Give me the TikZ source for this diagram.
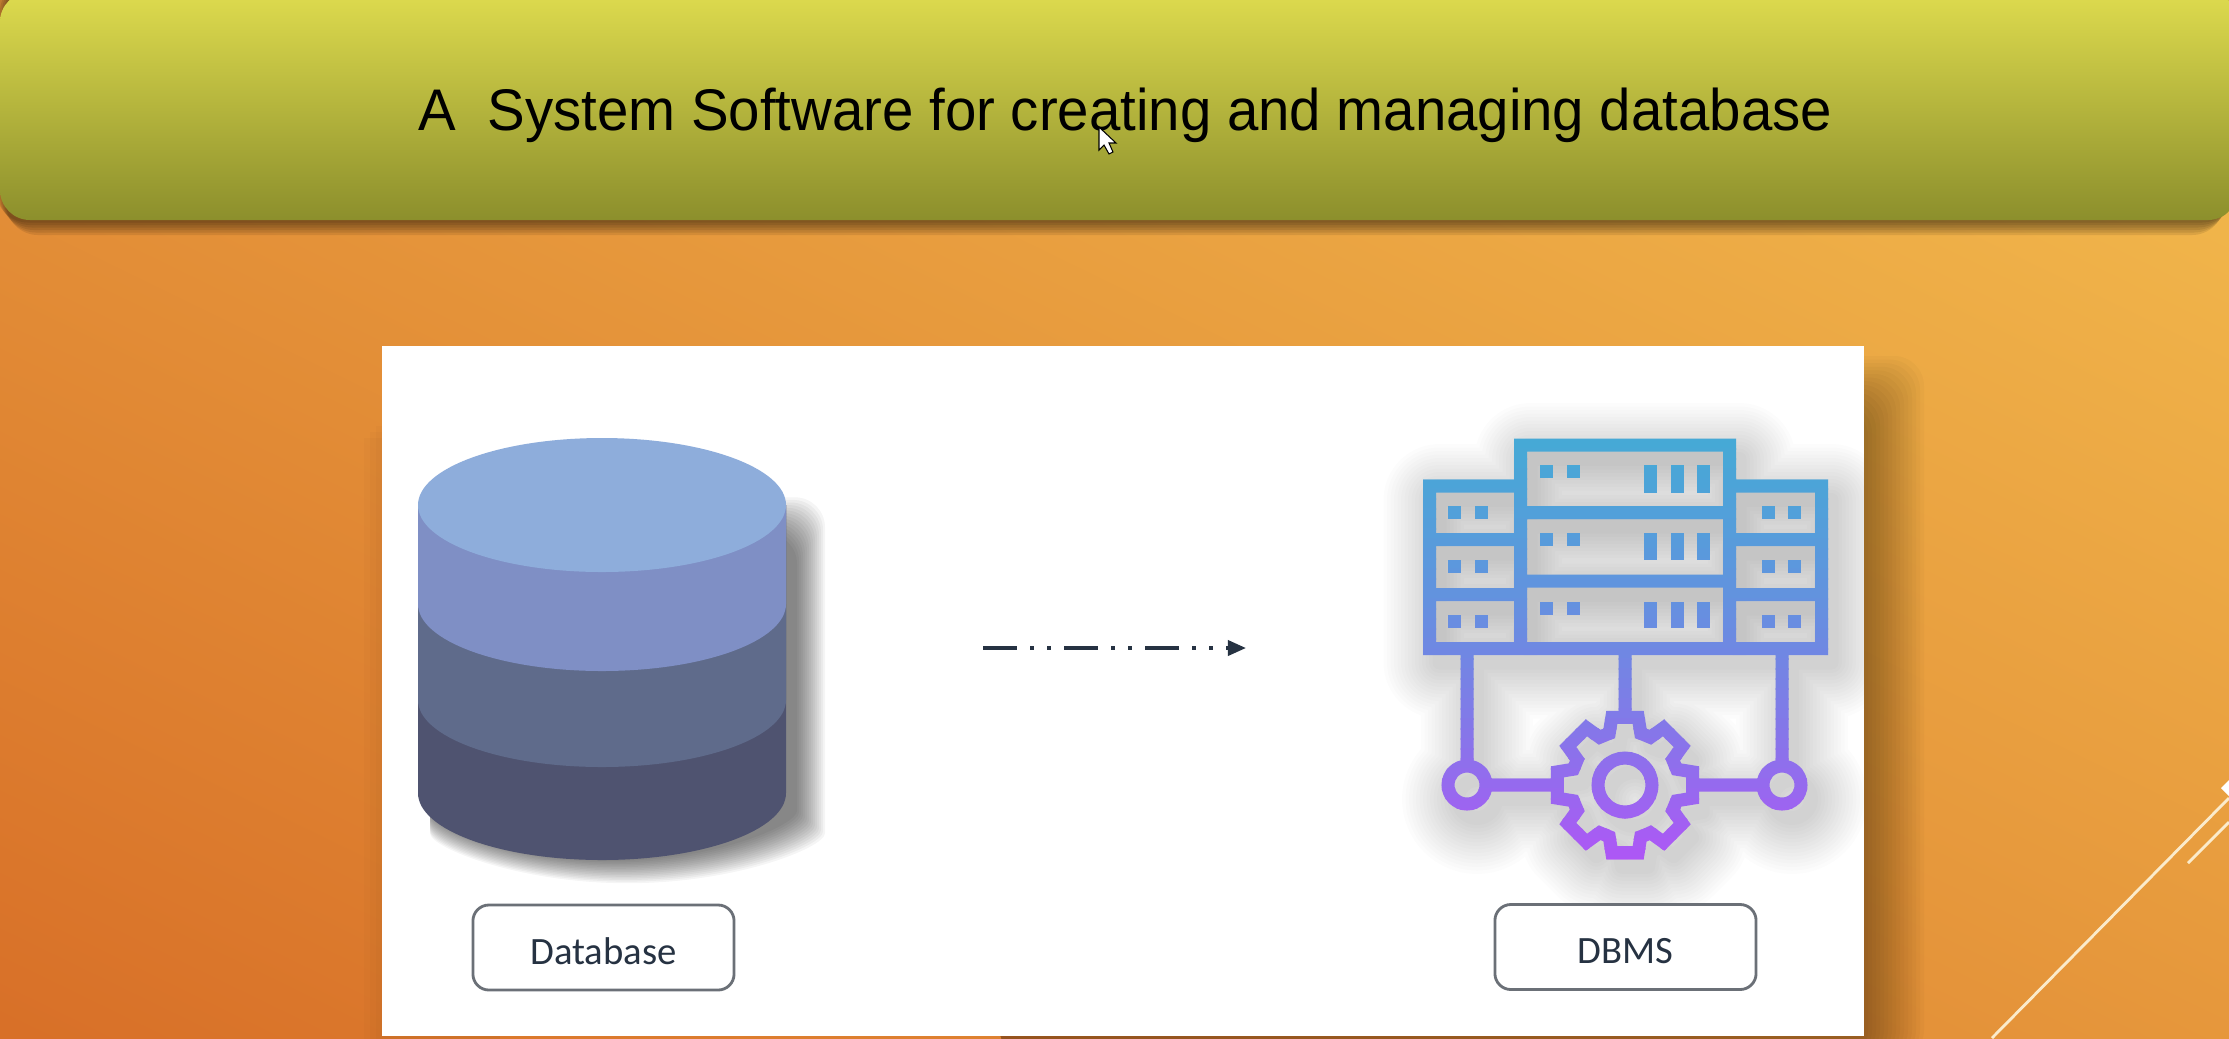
\documentclass[tikz,border=0pt]{standalone}
\usepackage{fontspec}
\setmainfont[FakeStretch=0.96]{Liberation Sans}
\newfontfamily\boxfont{Carlito}
\usetikzlibrary{arrows.meta}
\definecolor{bgtop}{HTML}{FAD058}
\definecolor{bgbot}{HTML}{D15C1E}
\definecolor{bannertop}{HTML}{DEDB4E}
\definecolor{bannermid}{HTML}{BDB843}
\definecolor{bannerbot}{HTML}{8C8F2C}
\definecolor{layerA}{HTML}{8EADDB}
\definecolor{layerB}{HTML}{7F8FC5}
\definecolor{layerC}{HTML}{5F6B8B}
\definecolor{layerD}{HTML}{4F5370}
\definecolor{icontop}{HTML}{46A9D6}
\definecolor{iconbot}{HTML}{B055F6}
\definecolor{boxgray}{HTML}{6B7077}
\definecolor{inkdark}{HTML}{263242}
\definecolor{cornerline}{HTML}{FBEBCB}
\newcommand{\cylbody}[1]{(418,505) -- (418,#1) arc[start angle=180,end angle=0,x radius=184,y radius=67] -- (786,505) -- cycle}
\newcommand{\cylshadow}[1]{(430,505) -- (430,780+.8*#1) arc[start angle=180,end angle=0,x radius=183+#1/2,y radius=80] -- (796+#1,535-1.3*#1) -- (700,535-1.3*#1) -- cycle}
\newcommand{\serverpath}{
  (1520.5,445) rectangle (1729.5,648.5)
  (1520.5,486) -- (1429.5,486) -- (1429.5,648.5) -- (1821.5,648.5) -- (1821.5,486) -- (1729.5,486)
  (1520.5,512.5) -- (1729.5,512.5)
  (1520.5,581) -- (1729.5,581)
  (1429.5,539.5) -- (1520.5,539.5)
  (1429.5,594.5) -- (1520.5,594.5)
  (1729.5,539.5) -- (1821.5,539.5)
  (1729.5,594.5) -- (1821.5,594.5)
  (1467,655) -- (1467,766)
  (1625,655) -- (1625,716)
  (1782,655) -- (1782,766)
  (1486,785) -- (1556,785)
  (1694,785) -- (1763,785)
  (1467,785) circle[radius=19]
  (1782,785) circle[radius=19]
  (1625,785) circle[radius=27]
  ([shift={(67.5:54)}]1625,785)
    \foreach \a in {90,135,...,405} { -- ([shift={(\a-17:54)}]1625,785) -- ([shift={(\a-11:69)}]1625,785) -- ([shift={(\a+11:69)}]1625,785) -- ([shift={(\a+17:54)}]1625,785) } -- cycle
}
\newcommand{\serverdots}{
  \foreach \y/\h in {465/28,533/27,602/26} {
    \foreach \x in {1644,1671,1697} \fill (\x,\y) rectangle ++(13,\h);
    \foreach \x in {1540,1567} \fill (\x,\y) rectangle ++(13,13);
  }
  \foreach \y in {506,560,615} {
    \foreach \x in {1448,1475,1762,1788} \fill (\x,\y) rectangle ++(13,13);
  }
}
\begin{document}
\begin{tikzpicture}[x=0.01cm,y=-0.01cm,
labelbox/.style={draw=boxgray,fill=white,rounded corners=.16cm,minimum width=2.61cm,minimum height=.85cm,inner sep=0pt,line width=.8pt,text=inkdark,text height=9.6pt,text depth=0pt,font=\boxfont\fontsize{11}{13}\selectfont},
titletext/.style={anchor=base west,inner sep=0pt,font=\fontsize{16.7}{20}\selectfont},
corner/.style={draw=cornerline,line width=.8pt}]

\useasboundingbox (0,0) rectangle (2229,1038);

\shade[shading=axis,bottom color=bgbot,top color=bgtop,shading angle=-26] (-1135,-539) rectangle (3364,1577);

% banner
\foreach \w in {4,8,...,24} \fill[black,opacity=.09,rounded corners=.32cm] (-6+\w/2,-20) rectangle (2236-\w/2,220+\w/1.6);
\shade[top color=bannertop,middle color=bannermid,bottom color=bannerbot,rounded corners=.3cm] (0,-8) rectangle (2238,220);
\draw (418,130) node[titletext] (title) {A\ \ System Software for creating and managing database};
\filldraw[fill=white,draw=black,line width=.3pt] (1099,127) -- (1099,150) -- (1104,145) -- (1109,154) -- (1113,152) -- (1109,143) -- (1116,143) -- cycle;

% panel
\foreach \w in {6,12,18} \fill[black,opacity=.015] (382-\w,420+\w) rectangle (500,1060);
\foreach \w in {4,8,...,60} \fill[black,opacity=.025,rounded corners=.3cm] (1000,410-.9*\w) rectangle (1864+\w,1060);
\fill[white] (382,346) rectangle (1864,1036);

% database
\foreach \s in {1,3,...,29} \fill[black,opacity=.04,rounded corners=.3cm] \cylshadow{\s};
\foreach \ybase/\col in {793/layerD,700/layerC,604/layerB} \fill[\col] \cylbody{\ybase};
\fill[layerA] (602,505) ellipse[x radius=184,y radius=67];
\draw (603.5,947.5) node[labelbox] (dbbox) {Database};

% arrow
\coordinate (arrowstart) at (983,648);
\coordinate (arrowend) at (1246,648);
\draw[inkdark,line width=.035cm,dash pattern=on .34cm off .13cm on .04cm off .13cm on .04cm off .13cm,-{Triangle[length=.18cm,width=.15cm]}] (arrowstart) -- (arrowend);

% dbms icon
\fill[black!5] (1520,445) rectangle (1730,648) (1430,486) rectangle (1822,648);
\begin{scope}
  \clip (382,346) rectangle (1864,1036);
  \foreach \w in {14,21,...,112} \draw[black,draw opacity=.012,line width=\w*.01cm,line join=round,shift={(10,14)}] \serverpath;
\end{scope}
\foreach \i in {0,...,42} {
  \pgfmathsetmacro{\mixval}{100-100*(\i/42)*(.6+.4*\i/42)}
  \begin{scope}
    \clip (1400,438+\i*10) rectangle (1850,449+\i*10);
    \begin{scope}[line width=.13cm,draw=icontop!\mixval!iconbot,fill=icontop!\mixval!iconbot]
      \draw \serverpath;
      \serverdots
    \end{scope}
  \end{scope}
}
\draw (1625.5,947) node[labelbox] (dbmsbox) {DBMS};

% corner lines
\draw[corner] (1992,1038) -- (2229,798);
\draw[corner] (2188,863) -- (2229,822);
\fill[white] (2229,780) -- (2221,788) -- (2229,796) -- cycle;
\end{tikzpicture}
\end{document}
